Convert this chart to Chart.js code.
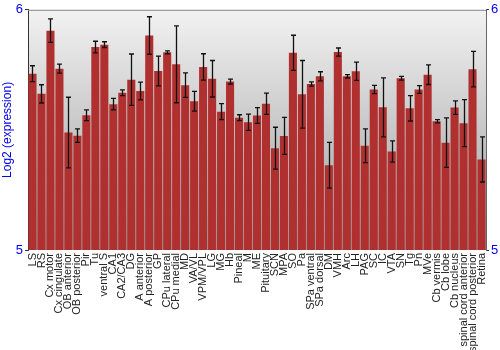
<!DOCTYPE html>
<html>
<head>
<meta charset="utf-8">
<script src="https://cdn.jsdelivr.net/npm/chart.js@4/dist/chart.umd.min.js"></script>
<style>
html,body{margin:0;padding:0;background:#fff;}
#wrap{width:500px;height:350px;}
</style>
</head>
<body>
<div id="wrap"><canvas id="c" width="500" height="350"></canvas></div>
<script>
const categories = ["LS","RS","Cx motor","Cx cingulate","OB anterior","OB posterior","Pir","Tu","ventral S","CA1","CA2/CA3","DG","A anterior","A posterior","GP","CPu lateral","CPu medial","MD","VA/VL","VPM/VPL","LG","MG","Hb","Pineal","M","ME","Pituitary","SCN","MPA","SO","Pa","SPa ventral","SPa dorsal","DM","VMH","Arc","LH","PAG","SC","IC","VTA","SN","Tg","Pn","MVe","Cb vermis","Cb lobe","Cb nucleus","spinal cord anterior","spinal cord posterior","Retina"];
const values = [5.734,5.650,5.913,5.755,5.489,5.476,5.561,5.845,5.855,5.607,5.655,5.709,5.662,5.893,5.745,5.823,5.773,5.686,5.619,5.762,5.713,5.576,5.701,5.551,5.532,5.560,5.609,5.424,5.475,5.821,5.648,5.691,5.723,5.353,5.824,5.723,5.744,5.434,5.668,5.594,5.410,5.715,5.590,5.668,5.730,5.536,5.447,5.593,5.528,5.753,5.377];
const errors = [0.033,0.038,0.049,0.019,0.147,0.028,0.022,0.024,0.012,0.024,0.012,0.107,0.037,0.078,0.062,0.006,0.160,0.051,0.041,0.055,0.076,0.033,0.010,0.012,0.034,0.033,0.044,0.087,0.077,0.073,0.141,0.009,0.019,0.095,0.017,0.007,0.038,0.070,0.017,0.123,0.044,0.008,0.053,0.016,0.041,0.007,0.103,0.028,0.098,0.074,0.094];
const yTicks = [5, 6];
const yTitle = "Log2 (expression)";

const bgPlugin = {
  id: 'bg',
  beforeDraw(chart) {
    const {ctx, chartArea: a} = chart;
    const g = ctx.createLinearGradient(0, a.top, 0, a.bottom);
    g.addColorStop(0, '#f2f2f2');
    g.addColorStop(1, '#9c9c9c');
    ctx.save();
    ctx.fillStyle = g;
    ctx.fillRect(a.left, a.top, a.right - a.left, a.bottom - a.top);
    ctx.restore();
  },
  afterDraw(chart) {
    const {ctx, chartArea: a} = chart;
    ctx.save();
    ctx.strokeStyle = '#888';
    ctx.lineWidth = 1;
    ctx.beginPath();
    ctx.moveTo(a.left, a.top + 0.5);
    ctx.lineTo(a.right, a.top + 0.5);
    ctx.stroke();
    ctx.restore();
  }
};

const errPlugin = {
  id: 'err',
  afterDatasetsDraw(chart) {
    const {ctx} = chart;
    const ys = chart.scales.y;
    const meta = chart.getDatasetMeta(0);
    ctx.save();
    ctx.strokeStyle = '#111';
    ctx.lineWidth = 1.3;
    meta.data.forEach((bar, i) => {
      const x = Math.round(bar.x) + 0.5;
      const t = ys.getPixelForValue(values[i] + errors[i]);
      const b = ys.getPixelForValue(values[i] - errors[i]);
      ctx.beginPath();
      ctx.moveTo(x, t); ctx.lineTo(x, b);
      ctx.moveTo(x - 2.5, t); ctx.lineTo(x + 2.5, t);
      ctx.moveTo(x - 2.5, b); ctx.lineTo(x + 2.5, b);
      ctx.stroke();
    });
    ctx.restore();
  }
};

function barFill(context) {
  const chart = context.chart;
  const el = context.element;
  if (!chart.chartArea || !el || el.width === undefined || isNaN(el.x)) return '#b03030';
  const x0 = el.x - el.width / 2, x1 = el.x + el.width / 2;
  const g = chart.ctx.createLinearGradient(x0, 0, x1, 0);
  g.addColorStop(0, '#a02a2a');
  g.addColorStop(0.2, '#cc5555');
  g.addColorStop(0.55, '#b33535');
  g.addColorStop(1, '#761414');
  return g;
}

new Chart(document.getElementById('c'), {
  type: 'bar',
  data: {
    labels: categories,
    datasets: [{
      data: values,
      backgroundColor: barFill,
      borderWidth: 0,
      barPercentage: 0.9,
      categoryPercentage: 1.0
    }]
  },
  options: {
    responsive: false,
    animation: false,
    plugins: { legend: { display: false }, tooltip: { enabled: false } },
    layout: { padding: { top: 9, left: 0, right: 0, bottom: 0 } },
    scales: {
      x: {
        grid: { display: false, drawTicks: false },
        border: { display: false },
        ticks: {
          autoSkip: false, maxRotation: 90, minRotation: 90, padding: 3,
          color: '#222', font: { family: 'Liberation Sans, Arial, sans-serif', size: 11 }
        },
        afterFit(scale) { scale.height = 100; }
      },
      y: {
        min: 5, max: 6,
        afterBuildTicks(scale) { scale.ticks = yTicks.map(v => ({value: v})); },
        ticks: {
          color: '#0000ee', padding: 2,
          font: { family: 'Liberation Sans, Arial, sans-serif', size: 13 }
        },
        grid: { drawOnChartArea: false, tickLength: 3, color: '#333' },
        border: { color: '#333', width: 1 },
        title: {
          display: true, text: yTitle, color: '#0000ee', padding: 0,
          font: { family: 'Liberation Sans, Arial, sans-serif', size: 12 }
        },
        afterFit(scale) { scale.width = 28; }
      },
      y2: {
        position: 'right',
        min: 5, max: 6,
        afterBuildTicks(scale) { scale.ticks = yTicks.map(v => ({value: v})); },
        ticks: {
          color: '#0000ee', padding: 2,
          font: { family: 'Liberation Sans, Arial, sans-serif', size: 13 }
        },
        grid: { drawOnChartArea: false, tickLength: 3, color: '#333' },
        border: { color: '#666', width: 1 },
        afterFit(scale) { scale.width = 14; }
      }
    }
  },
  plugins: [bgPlugin, errPlugin]
});
</script>
</body>
</html>
